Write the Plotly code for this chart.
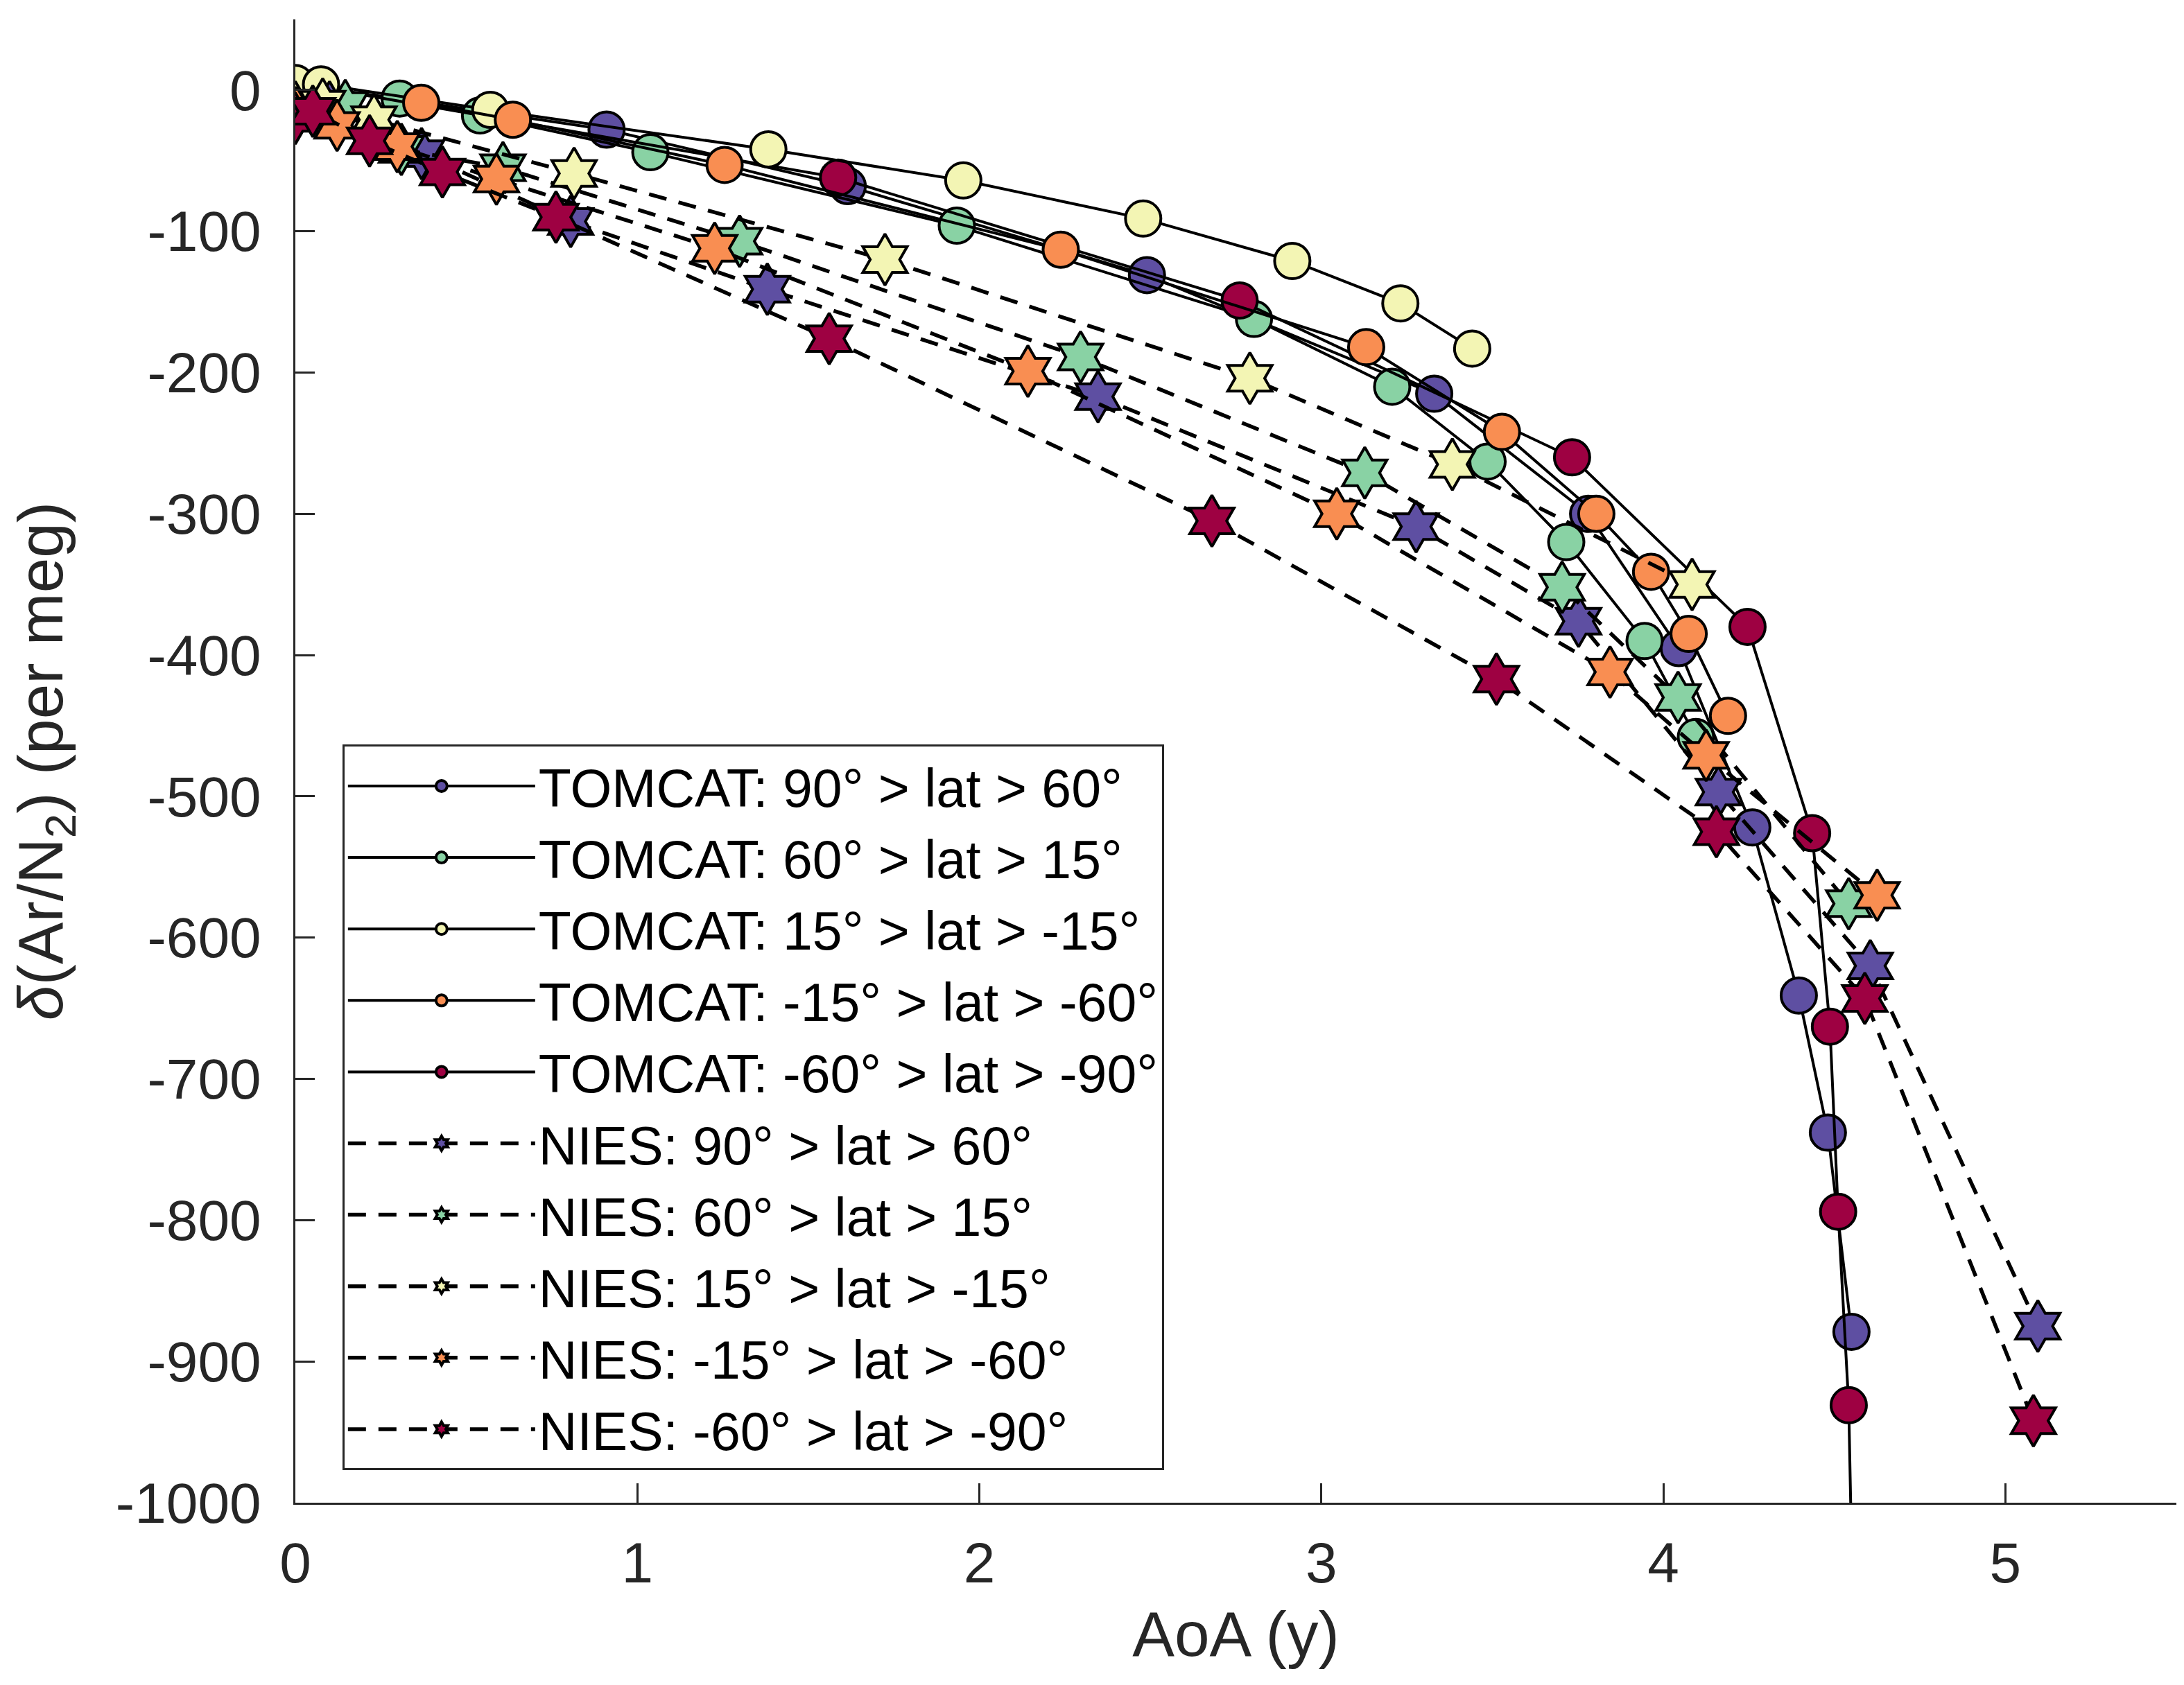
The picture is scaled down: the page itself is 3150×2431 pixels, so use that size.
import plotly.graph_objects as go

# -------------------------------
# DATA
# -------------------------------
bands = ['90° > lat > 60°', '60° > lat > 15°', '15° > lat > -15°',
         '-15° > lat > -60°', '-60° > lat > -90°']
colors = ['#5E4FA2', '#89D2A4', '#F3F5B4', '#F98E52', '#9E0142']

# TOMCAT model, one list pair per latitude band
tomcat_aoa_1 = [0.07, 0.91, 1.615, 2.49, 3.33, 3.78, 4.045, 4.26, 4.396, 4.481, 4.55]
tomcat_val_1 = [2, -28, -68, -131, -215, -300, -395, -522, -641, -738, -879]
tomcat_aoa_2 = [0.06, 0.305, 0.54, 1.038, 1.934, 2.803, 3.207, 3.486, 3.716, 3.945, 4.095]
tomcat_val_2 = [1, -6, -18, -44, -96, -162, -210, -263, -320, -390, -458]
tomcat_aoa_3 = [0.0, 0.075, 0.57, 1.383, 1.953, 2.479, 2.915, 3.231, 3.441]
tomcat_val_3 = [5, 4, -14, -42, -64, -91, -121, -151, -183]
tomcat_aoa_4 = [0.368, 0.636, 1.255, 2.238, 3.131, 3.528, 3.804, 3.964, 4.074, 4.189]
tomcat_val_4 = [-9, -21, -53, -113, -182, -242, -300, -341, -385, -443]
tomcat_aoa_5 = [0.07, 1.587, 2.761, 3.733, 4.246, 4.435, 4.487, 4.511, 4.542, 4.56]
tomcat_val_5 = [2, -62, -149, -260, -380, -526, -663, -794, -931, -1150]

# NIES model
nies_aoa_1 = [0.0, 0.1, 0.369, 0.805, 1.38, 2.347, 3.277, 3.752, 4.161, 4.605, 5.095]
nies_val_1 = [-17, -12, -45, -93, -141, -217, -309, -376, -497, -620, -875]
nies_aoa_2 = [0.0, 0.146, 0.31, 0.607, 1.299, 2.296, 3.127, 3.704, 4.043, 4.542]
nies_val_2 = [-14, -11, -42, -55, -107, -189, -271, -352, -430, -576]
nies_aoa_3 = [0.0, 0.08, 0.23, 0.815, 1.724, 2.791, 3.383, 4.084]
nies_val_3 = [-12, -10, -21, -59, -120, -204, -265, -350]
nies_aoa_4 = [0.004, 0.122, 0.298, 0.588, 1.226, 2.142, 3.045, 3.844, 4.125, 4.625]
nies_val_4 = [-16, -25, -40, -63, -112, -199, -300, -412, -471, -570]
nies_aoa_5 = [0.0, 0.051, 0.217, 0.43, 0.762, 1.561, 2.68, 3.512, 4.155, 4.589, 5.082]
nies_val_5 = [-20, -15, -36, -58, -90, -176, -305, -417, -525, -643, -942]

x_ticks = [0, 1, 2, 3, 4, 5]
y_ticks = list(range(-1000, 1, 100))

tomcat = [(tomcat_aoa_1, tomcat_val_1), (tomcat_aoa_2, tomcat_val_2),
          (tomcat_aoa_3, tomcat_val_3), (tomcat_aoa_4, tomcat_val_4),
          (tomcat_aoa_5, tomcat_val_5)]
nies = [(nies_aoa_1, nies_val_1), (nies_aoa_2, nies_val_2),
        (nies_aoa_3, nies_val_3), (nies_aoa_4, nies_val_4),
        (nies_aoa_5, nies_val_5)]

# stacking order of the TOMCAT circles (legend order kept with legendrank)
tomcat_draw_order = [0, 1, 4, 2, 3]

INK = '#262626'
FONT = 'Liberation Sans, Arial, sans-serif'

fig = go.Figure()

# -------------------------------
# TOMCAT: solid lines, circles
# -------------------------------
for i in tomcat_draw_order:
    xs, ys = tomcat[i]
    fig.add_trace(go.Scatter(
        x=xs, y=ys, mode='lines+markers',
        name='TOMCAT: ' + bands[i], legendrank=i + 1,
        line=dict(color='black', width=4),
        marker=dict(symbol='circle', size=51, color=colors[i],
                    line=dict(color='black', width=4))
    ))

# -------------------------------
# NIES: dashed lines, 6-point stars
# -------------------------------
for i, (xs, ys) in enumerate(nies):
    fig.add_trace(go.Scatter(
        x=xs, y=ys, mode='lines+markers',
        name='NIES: ' + bands[i], legendrank=i + 6,
        line=dict(color='black', width=5.5, dash='26px,18px'),
        marker=dict(symbol='hexagram', size=56, color=colors[i],
                    line=dict(color='black', width=4))
    ))

fig.update_layout(
    width=3150, height=2431,
    margin=dict(l=418, r=19, t=20, b=271),
    paper_bgcolor='white', plot_bgcolor='white',
    font=dict(family=FONT, size=82, color=INK),
    showlegend=True,
    legend=dict(
        x=0.025, y=0.511, xanchor='left', yanchor='top',
        bgcolor='white', bordercolor=INK, borderwidth=3,
        font=dict(size=77, color='black'),
        itemwidth=270, tracegroupgap=0
    )
)

fig.update_xaxes(
    range=[0, 5.5], tickvals=x_ticks, ticktext=[str(v) for v in x_ticks],
    showgrid=False, zeroline=False, showline=True, linecolor=INK, linewidth=3,
    ticks='inside', ticklen=28, tickwidth=3, tickcolor=INK,
    ticklabelstandoff=14,
    title=dict(text='AoA (y)', font=dict(size=91, color=INK), standoff=26)
)
fig.update_yaxes(
    range=[-1000, 50], tickvals=y_ticks, ticktext=[str(v) for v in y_ticks],
    showgrid=False, zeroline=False, showline=True, linecolor=INK, linewidth=3,
    ticks='inside', ticklen=28, tickwidth=3, tickcolor=INK,
    ticklabelstandoff=30,
    title=dict(text='<i>δ</i>(Ar/N<sub>2</sub>) (per meg)',
               font=dict(size=91, color=INK), standoff=60)
)

fig.write_html("out.html")
